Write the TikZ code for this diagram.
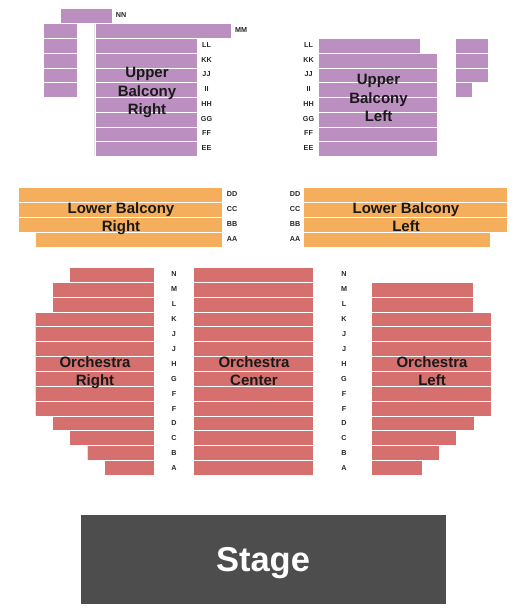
\documentclass[tikz,border=0pt]{standalone}
\usepackage{fontspec}
\setmainfont{Liberation Sans}
\definecolor{upperpurple}{HTML}{BB8FBF}
\definecolor{lowerorange}{HTML}{F5AE5C}
\definecolor{orchred}{HTML}{D6706F}
\definecolor{stagegray}{HTML}{4D4D4D}
\definecolor{edgegray}{HTML}{E2E0E2}
\tikzset{
    upperrow/.style={fill=upperpurple},
    lowerrow/.style={fill=lowerorange},
    orchrow/.style={fill=orchred},
    rowlabel/.style={font=\fontsize{7.2}{8}\selectfont\bfseries, text=black!85, inner sep=0pt},
    seclabel/.style={font=\fontsize{15}{18.5}\selectfont\bfseries, text=black!90, align=center, inner sep=0pt},
    edgeline/.style={draw=edgegray, line width=0.8pt}
}
\begin{document}
\begin{tikzpicture}[x=1pt, y=-1pt]
    \useasboundingbox (0,0) rectangle (525,610);

    % upper balcony right
    \fill[upperrow] (61,9) rectangle (112,23);
    \fill[upperrow] (96,24.2) rectangle (231,38.1);
    \foreach \i in {0,...,7}
        \fill[upperrow] (96,39+14.76*\i) rectangle (197,39+14.76*\i+13.9);
    \foreach \i in {-1,...,3}
        \fill[upperrow] (44,39+14.76*\i) rectangle (77,39+14.76*\i+13.9);
    \coordinate (edgetop) at (94.5,24);
    \coordinate (edgebot) at (94.5,156);
    \draw[edgeline] (edgetop) -- (edgebot);

    % upper balcony left
    \fill[upperrow] (319,39) rectangle (420,52.9);
    \foreach \i in {1,...,7}
        \fill[upperrow] (319,39+14.76*\i) rectangle (437,39+14.76*\i+13.9);
    \foreach \i/\xr in {0/488, 1/488, 2/488, 3/472}
        \fill[upperrow] (456,39+14.76*\i) rectangle (\xr,39+14.76*\i+13.9);

    % lower balcony
    \foreach \i/\xl/\xr in {0/19/507, 1/19/507, 2/19/507, 3/36/490} {
        \fill[lowerrow] (\xl,188+14.9*\i) rectangle (222,188+14.9*\i+13.9);
        \fill[lowerrow] (304,188+14.9*\i) rectangle (\xr,188+14.9*\i+13.9);
    }

    % orchestra
    \foreach \i/\xl/\xr in {0/70/0, 1/53/473, 2/53/473, 3/36/491, 4/36/491, 5/36/491, 6/36/491,
        7/36/491, 8/36/491, 9/36/491, 10/53/474, 11/70/456, 12/88/439, 13/105/422} {
        \fill[orchrow] (\xl,268+14.85*\i) rectangle (154,268+14.85*\i+13.9);
        \fill[orchrow] (194,268+14.85*\i) rectangle (313,268+14.85*\i+13.9);
        \ifnum\xr>0
            \fill[orchrow] (372,268+14.85*\i) rectangle (\xr,268+14.85*\i+13.9);
        \fi
    }
    \coordinate (orchtop) at (35,312);
    \coordinate (orchbot) at (35,415);
    \draw[edgeline] (orchtop) -- (orchbot);
    \coordinate (btop) at (87,446);
    \coordinate (bbot) at (87,460);
    \draw[edgeline] (btop) -- (bbot);

    % row letters
    \node[rowlabel] (rownn) at (121,15.5) {NN};
    \node[rowlabel] (rowmm) at (241,30) {MM};
    \foreach \lab [count=\i from 0] in {LL,KK,JJ,II,HH,GG,FF,EE} {
        \node[rowlabel] (urow\i) at (206.5,45+14.75*\i) {\lab};
        \node[rowlabel] (vrow\i) at (308.5,45+14.75*\i) {\lab};
    }
    \foreach \lab [count=\i from 0] in {DD,CC,BB,AA} {
        \node[rowlabel] (lrow\i) at (232,194+15*\i) {\lab};
        \node[rowlabel] (mrow\i) at (295,194+15*\i) {\lab};
    }
    \foreach \lab [count=\i from 0] in {N,M,L,K,J,J,H,G,F,F,D,C,B,A} {
        \node[rowlabel] (orow\i) at (174,274+14.95*\i) {\lab};
        \node[rowlabel] (prow\i) at (344,274+14.95*\i) {\lab};
    }

    % section names
    \node[seclabel] (upperright) at (147,92.5) {Upper\\Balcony\\Right};
    \node[seclabel] (upperleft) at (378.5,98) {Upper\\Balcony\\Left};
    \node[seclabel] (lowerright) at (121,218.5) {Lower Balcony\\Right};
    \node[seclabel] (lowerleft) at (406,217) {Lower Balcony\\Left};
    \node[seclabel] (orchright) at (95,372.5) {Orchestra\\Right};
    \node[seclabel] (orchcenter) at (254,371) {Orchestra\\Center};
    \node[seclabel] (orchleft) at (432,371) {Orchestra\\Left};

    % stage
    \fill[stagegray] (81,515) rectangle (446,604);
    \node[font=\fontsize{34.5}{40}\selectfont\bfseries, text=white, inner sep=0pt] (stage) at (263,563.5) {Stage};
\end{tikzpicture}
\end{document}
